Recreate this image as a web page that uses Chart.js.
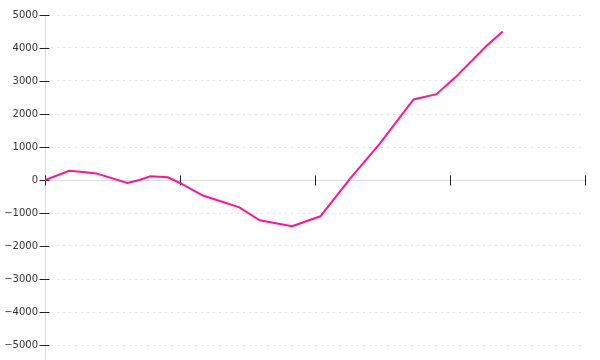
<!DOCTYPE html>
<html>
<head>
<meta charset="utf-8">
<script src="https://cdn.jsdelivr.net/npm/chart.js@4.4.0/dist/chart.umd.min.js"></script>
<style>
  html, body { margin: 0; padding: 0; background: #fff; }
  #wrap { width: 600px; height: 360px; }
</style>
</head>
<body>
<div id="wrap"><canvas id="grafico"></canvas></div>
<script>
// posiciones en x (0..400, una marca cada 100) y valores
const posX = [0, 18, 28, 38, 61, 70, 78, 91, 100, 117, 144, 159, 167, 183, 204, 226, 248, 273, 290, 304, 327, 339];
const valores = [0, 280, 240, 200, -90, 0, 110, 80, -90, -470, -830, -1220, -1280, -1400, -1100, 40, 1100, 2440, 2600, 3110, 4060, 4500];
const marcasX = [0, 100, 200, 300, 400];
const marcasY = [-5000, -4000, -3000, -2000, -1000, 0, 1000, 2000, 3000, 4000, 5000];

// Dibuja los ejes y las marcas que cruzan la linea
const ejes = {
  id: 'ejes',
  beforeDatasetsDraw(chart) {
    const { ctx, chartArea, scales: { x, y } } = chart;
    ctx.save();
    ctx.lineWidth = 1;
    ctx.strokeStyle = '#dddddd';
    const y0 = Math.round(y.getPixelForValue(0)) + 0.5;
    ctx.beginPath();
    ctx.moveTo(chartArea.left, y0);
    ctx.lineTo(chartArea.right, y0);
    const xa = Math.round(chartArea.left) + 0.5;
    ctx.moveTo(xa, chartArea.top);
    ctx.lineTo(xa, chart.height);
    ctx.stroke();

    ctx.strokeStyle = '#222222';
    ctx.beginPath();
    marcasY.forEach((v) => {
      const py = Math.round(y.getPixelForValue(v)) + 0.5;
      ctx.moveTo(xa - 6, py);
      ctx.lineTo(xa + 4, py);
    });
    marcasX.forEach((v) => {
      const px = Math.round(x.getPixelForValue(v)) + 0.5;
      ctx.moveTo(px, y0 - 5);
      ctx.lineTo(px, y0 + 5);
    });
    ctx.stroke();
    ctx.restore();
  }
};

new Chart(document.getElementById('grafico'), {
  type: 'line',
  data: {
    datasets: [{
      data: posX.map((v, i) => ({ x: v, y: valores[i] })),
      borderColor: '#ff1493',
      borderWidth: 2,
      pointRadius: 0,
      tension: 0,
      fill: false
    }]
  },
  options: {
    responsive: true,
    maintainAspectRatio: false,
    animation: false,
    layout: { padding: { top: 15, bottom: 15, right: 15, left: 0 } },
    plugins: { legend: { display: false }, tooltip: { enabled: false } },
    scales: {
      x: {
        type: 'linear',
        min: 0,
        max: 400,
        display: false
      },
      y: {
        min: -5000,
        max: 5000,
        afterFit(scale) { scale.width = 45; },
        ticks: {
          stepSize: 1000,
          padding: 7,
          color: '#333333',
          font: { family: 'DejaVu Sans', size: 10 },
          callback: (v) => String(v).replace('-', '\u2212')
        },
        border: { display: false, dash: [2, 4] },
        grid: {
          drawTicks: false,
          color: (c) => (c.tick && c.tick.value === 0 ? 'rgba(0,0,0,0)' : '#e4e4e4')
        }
      }
    }
  },
  plugins: [ejes]
});
</script>
</body>
</html>
